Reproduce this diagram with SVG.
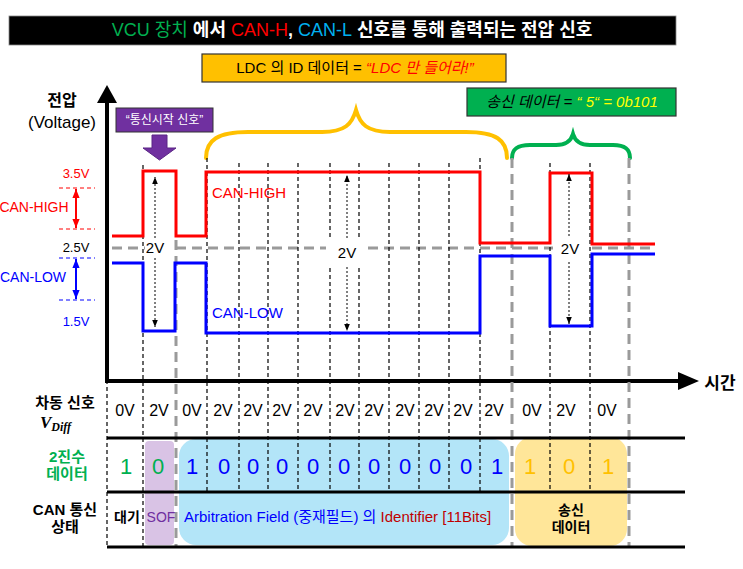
<svg xmlns="http://www.w3.org/2000/svg" width="743" height="569" viewBox="0 0 743 569">
<defs>
<style>
.t{font-family:"Liberation Sans","Noto Sans CJK KR",sans-serif;}
.dash{stroke:#000;stroke-width:1.2;stroke-dasharray:4 3;fill:none}
.gdash{stroke:#9a9a9a;stroke-width:3;stroke-dasharray:10 6;fill:none}
.dot{stroke:#000;stroke-width:1;stroke-dasharray:2 2;fill:none}
.tl{stroke:#000;stroke-width:3;fill:none}
.v{font-size:16px;text-anchor:middle;fill:#000}
.d{font-size:22px;text-anchor:middle}
</style>
<marker id="ah" viewBox="0 0 10 10" refX="10" refY="5" markerWidth="7" markerHeight="7" markerUnits="userSpaceOnUse" orient="auto-start-reverse"><path d="M0,1 L10,5 L0,9 z" fill="#000"/></marker>
<marker id="ahr" viewBox="0 0 10 10" refX="10" refY="5" markerWidth="9" markerHeight="9" markerUnits="userSpaceOnUse" orient="auto-start-reverse"><path d="M0,1 L10,5 L0,9 z" fill="#FF0000"/></marker>
<marker id="ahb" viewBox="0 0 10 10" refX="10" refY="5" markerWidth="9" markerHeight="9" markerUnits="userSpaceOnUse" orient="auto-start-reverse"><path d="M0,1 L10,5 L0,9 z" fill="#0000FF"/></marker>
</defs>
<rect width="743" height="569" fill="#fff"/>

<g id="title">
<rect x="9" y="16" width="667" height="29" fill="#000" stroke="#888" stroke-width="0.8"/>
<text class="t" x="352" y="36" font-size="18" text-anchor="middle" fill="#fff" font-weight="bold"><tspan fill="#00B050" font-weight="normal">VCU 장치</tspan> 에서 <tspan fill="#FF0000" font-weight="normal">CAN-H</tspan>, <tspan fill="#00B0F0" font-weight="normal">CAN-L</tspan> 신호를 통해 출력되는 전압 신호</text>
</g>

<g id="ldc-box">
<rect x="202" y="54" width="304" height="28" fill="#FFC000" stroke="#333" stroke-width="1.2"/>
<text class="t" x="355" y="73" font-size="15" text-anchor="middle" fill="#000">LDC 의 ID 데이터 = <tspan fill="#FF0000" font-style="italic">“LDC 만 들어라!”</tspan></text>
</g>

<g id="data-box">
<rect x="467" y="88" width="209" height="28" fill="#00B050" stroke="#333" stroke-width="1.2"/>
<text class="t" x="572" y="107" font-size="15" text-anchor="middle" font-style="italic" fill="#000">송신 데이터 = <tspan fill="#FFFF00">“ 5“ = 0b101</tspan></text>
</g>

<g id="braces" fill="none" stroke-linecap="round">
<path d="M206,158 C206,140 218,132 248,132 L322,132 C345,132 352,124 356,110 C360,124 367,132 390,132 L466,132 C496,132 507,140 507,158" stroke="#FFC000" stroke-width="4"/>
<path d="M512,158 C512,150 516,145 530,145 L556,145 C566,145 571,141 573,134 C575,141 580,145 590,145 L613,145 C626,145 630,150 630,158" stroke="#00B050" stroke-width="4"/>
</g>

<g id="axes">
<path d="M107,380 V100" stroke="#000" stroke-width="4" fill="none"/>
<path d="M107,85 L117,103 L97,103 z" fill="#000"/>
<path d="M105,381 H682" stroke="#000" stroke-width="4" fill="none"/>
<path d="M699,381 L678,372 L678,390 z" fill="#000"/>
<text class="t" x="62" y="106" font-size="16" font-weight="bold" text-anchor="middle">전압</text>
<text class="t" x="62" y="128" font-size="17" text-anchor="middle">(Voltage)</text>
<text class="t" x="720" y="389" font-size="17" font-weight="bold" text-anchor="middle">시간</text>
</g>

<g id="sof-callout">
<rect x="116" y="108" width="97" height="24" fill="#7030A0" stroke="#333" stroke-width="1"/>
<text class="t" x="164.5" y="124" font-size="12" text-anchor="middle" fill="#fff">“통신시작 신호”</text>
<path d="M152,135 H167 V148 H176 L159.5,160 L143,148 H152 z" fill="#7030A0" stroke="#5a2585" stroke-width="1"/>
</g>

<g id="level-labels" class="t">
<text x="76" y="178" font-size="13" fill="#FF0000" text-anchor="middle">3.5V</text>
<text x="34" y="212" font-size="14" fill="#FF0000" text-anchor="middle">CAN-HIGH</text>
<text x="76" y="252" font-size="13" fill="#000" text-anchor="middle">2.5V</text>
<text x="33" y="282" font-size="14" fill="#0000FF" text-anchor="middle">CAN-LOW</text>
<text x="76" y="326" font-size="13" fill="#0000FF" text-anchor="middle">1.5V</text>
<path d="M59,188 H95 M59,229 H95" stroke="#FF0000" stroke-width="1" stroke-dasharray="4 3"/>
<path d="M59,258 H95 M59,300 H95" stroke="#0000FF" stroke-width="1" stroke-dasharray="4 3"/>
<path d="M76,189 V228" stroke="#FF0000" stroke-width="2" marker-start="url(#ahr)" marker-end="url(#ahr)"/>
<path d="M76,259 V299" stroke="#0000FF" stroke-width="2" marker-start="url(#ahb)" marker-end="url(#ahb)"/>
</g>

<g id="table-fills">
<rect x="145" y="441" width="29" height="104" rx="4" fill="#D9C3E5"/>
<rect x="179" y="439" width="330" height="106" rx="17" fill="#B3E5F8"/>
<rect x="515" y="437" width="112" height="109" rx="17" fill="#FFE699"/>
</g>

<g id="connectors">
<path class="gdash" d="M112,248 H655"/>
<path class="dash" d="M143,165 V547 M107,380 V547"/>
<path class="dash" d="M207,158 V492 M239,163 V492 M268,163 V492 M298,163 V492 M330,163 V492 M359,163 V492 M389,163 V492 M419,163 V492 M449,163 V492 M480,158 V492 M550,163 V490 M590,163 V490"/>
<path class="gdash" d="M176,240 V547 M512,158 V547 M629,158 V547"/>
<path d="M112,236 H143 V171 H176 V236 H206 V172 H480 V243 H550 V173 H592 V244 H655" fill="none" stroke="#FF0000" stroke-width="3"/>
<path d="M112,263 H143 V331 H175 V263 H206 V333 H480 V256 H550 V326 H592 V254 H655" fill="none" stroke="#0000FF" stroke-width="3"/>
<rect x="145" y="238" width="28" height="20" fill="#fff"/>
<rect x="326" y="238" width="42" height="29" fill="#fff"/>
<rect x="553" y="236" width="34" height="26" fill="#fff"/>
<path class="dot" d="M155,238 V177" marker-end="url(#ah)"/>
<path class="dot" d="M155,258 V327" marker-end="url(#ah)"/>
<path class="dot" d="M347,238 V175" marker-end="url(#ah)"/>
<path class="dot" d="M347,267 V331" marker-end="url(#ah)"/>
<path class="dot" d="M569,236 V174" marker-end="url(#ah)"/>
<path class="dot" d="M569,262 V324" marker-end="url(#ah)"/>
<path class="tl" d="M107,438 H685 M107,492 H685 M107,547 H685"/>
</g>

<g id="plot-labels" class="t">
<text x="155" y="253" font-size="15" text-anchor="middle">2V</text>
<text x="347" y="258" font-size="15" text-anchor="middle">2V</text>
<text x="570" y="254" font-size="15" text-anchor="middle">2V</text>
<text x="212" y="198" font-size="15" fill="#FF0000">CAN-HIGH</text>
<text x="212" y="318" font-size="15" fill="#0000FF">CAN-LOW</text>
</g>

<g id="row-vdiff" class="t">
<text x="65" y="408" font-size="15" font-weight="bold" text-anchor="middle">차동 신호</text>
<text x="40" y="428" font-size="17" font-weight="bold" font-style="italic" font-family="Liberation Serif,serif">V<tspan font-size="12" dy="3">Diff</tspan></text>
<text class="v" x="125" y="416">0V</text>
<text class="v" x="159" y="416">2V</text>
<text class="v" x="192" y="416">0V</text>
<text class="v" x="223" y="416">2V</text>
<text class="v" x="253" y="416">2V</text>
<text class="v" x="282" y="416">2V</text>
<text class="v" x="313" y="416">2V</text>
<text class="v" x="345" y="416">2V</text>
<text class="v" x="374" y="416">2V</text>
<text class="v" x="405" y="416">2V</text>
<text class="v" x="434" y="416">2V</text>
<text class="v" x="463" y="416">2V</text>
<text class="v" x="494" y="416">2V</text>
<text class="v" x="532" y="416">0V</text>
<text class="v" x="566" y="416">2V</text>
<text class="v" x="607" y="416">0V</text>
</g>

<g id="row-binary" class="t">
<text x="67" y="462" font-size="15" font-weight="bold" fill="#00B050" text-anchor="middle">2진수</text>
<text x="67" y="479" font-size="15" font-weight="bold" fill="#00B050" text-anchor="middle">데이터</text>
<text class="d" x="126" y="474" fill="#00B050">1</text>
<text class="d" x="158" y="474" fill="#00B050">0</text>
<g fill="#0000FF">
<text class="d" x="192" y="474">1</text>
<text class="d" x="224" y="474">0</text>
<text class="d" x="253" y="474">0</text>
<text class="d" x="282" y="474">0</text>
<text class="d" x="313" y="474">0</text>
<text class="d" x="344" y="474">0</text>
<text class="d" x="374" y="474">0</text>
<text class="d" x="405" y="474">0</text>
<text class="d" x="435" y="474">0</text>
<text class="d" x="466" y="474">0</text>
<text class="d" x="497" y="474">1</text>
</g>
<g fill="#FFC000">
<text class="d" x="530" y="474">1</text>
<text class="d" x="569" y="474">0</text>
<text class="d" x="608" y="474">1</text>
</g>
</g>

<g id="row-state" class="t">
<text x="65" y="515" font-size="15" font-weight="bold" text-anchor="middle">CAN 통신</text>
<text x="65" y="532" font-size="15" font-weight="bold" text-anchor="middle">상태</text>
<text x="127" y="522" font-size="14" font-weight="bold" text-anchor="middle">대기</text>
<text x="161" y="522" font-size="14" fill="#7030A0" text-anchor="middle">SOF</text>
<text x="184" y="522" font-size="15" fill="#0000FF">Arbitration Field (중재필드) 의 <tspan fill="#C00000">Identifier [11Bits]</tspan></text>
<text x="571" y="515" font-size="14" font-weight="bold" text-anchor="middle">송신</text>
<text x="571" y="532" font-size="14" font-weight="bold" text-anchor="middle">데이터</text>
</g>
</svg>
